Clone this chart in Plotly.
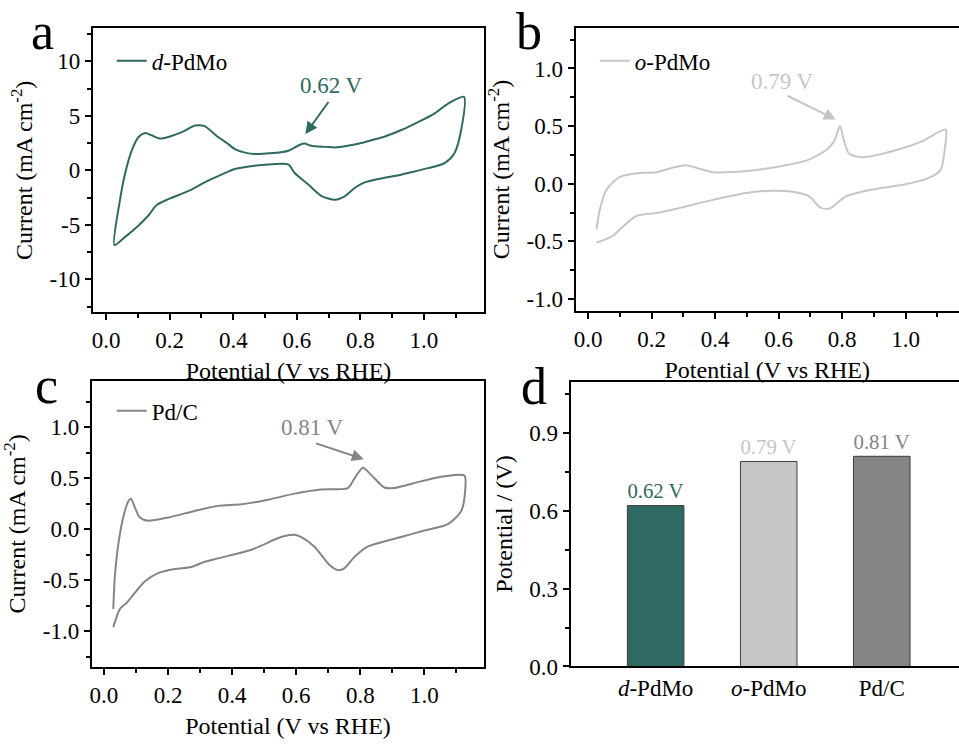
import plotly.graph_objects as go

# ---------------- data ----------------
# Panel a: d-PdMo CV (anodic scan then cathodic scan)
potential_a = [0.026, 0.044, 0.06, 0.081, 0.102, 0.123, 0.143, 0.17, 0.196, 0.238, 0.28, 0.31, 0.35, 0.38,
               0.405, 0.44, 0.468, 0.51, 0.55, 0.573, 0.594, 0.61, 0.625, 0.64, 0.657, 0.69, 0.72, 0.76,
               0.803, 0.84, 0.877, 0.929, 0.98, 1.033, 1.075, 1.126,
               1.117, 1.096, 1.065, 1.013, 0.97, 0.929, 0.856, 0.81, 0.783, 0.752, 0.72, 0.678, 0.636, 0.594,
               0.573, 0.51, 0.45, 0.405, 0.363, 0.31, 0.259, 0.196, 0.159, 0.133, 0.102, 0.06, 0.026]
current_a = [-6.85, -2.64, -0.24, 1.86, 3.06, 3.42, 3.21, 2.91, 3.06, 3.5, 4.1, 4.05, 3.1, 2.5,
             1.95, 1.6, 1.5, 1.56, 1.65, 1.8, 2.1, 2.35, 2.45, 2.3, 2.2, 2.15, 2.1, 2.25,
             2.5, 2.8, 3.1, 3.7, 4.4, 5.2, 6.1, 6.73,
             3.67, 1.57, 0.67, 0.2, -0.1, -0.4, -0.8, -1.15, -1.6, -2.36, -2.7, -2.36, -1.3, -0.27,
             0.54, 0.54, 0.35, 0.12, -0.39, -1.1, -1.89, -2.64, -3.18, -4.14, -5.05, -6.1, -6.85]

# Panel b: o-PdMo CV
potential_b = [0.026, 0.037, 0.058, 0.1, 0.152, 0.215, 0.267, 0.309, 0.351, 0.393, 0.497, 0.602, 0.686,
               0.749, 0.775, 0.793, 0.806, 0.822, 0.864, 0.969, 1.053, 1.126,
               1.124, 1.11, 1.073, 1.0, 0.895, 0.812, 0.77, 0.754, 0.728, 0.697, 0.644, 0.581, 0.497,
               0.393, 0.288, 0.225, 0.152, 0.11, 0.079, 0.047, 0.026]
current_b = [-0.395, -0.22, -0.05, 0.06, 0.09, 0.1, 0.14, 0.16, 0.13, 0.1, 0.11, 0.15, 0.2,
             0.29, 0.37, 0.5, 0.37, 0.26, 0.23, 0.29, 0.37, 0.47,
             0.32, 0.12, 0.05, -0.005, -0.05, -0.11, -0.2, -0.22, -0.2, -0.11, -0.07, -0.06, -0.08,
             -0.14, -0.21, -0.25, -0.28, -0.37, -0.45, -0.49, -0.51]

# Panel c: Pd/C CV
potential_c = [0.029, 0.034, 0.045, 0.06, 0.076, 0.084, 0.097, 0.112, 0.138, 0.2, 0.283, 0.356, 0.429, 0.512,
               0.595, 0.678, 0.761, 0.782, 0.808, 0.834, 0.875, 0.906, 0.989, 1.062, 1.125,
               1.127, 1.115, 1.073, 1.0, 0.927, 0.823, 0.782, 0.751, 0.73, 0.704, 0.657, 0.616, 0.595,
               0.553, 0.46, 0.356, 0.304, 0.273, 0.221, 0.169, 0.128, 0.097, 0.071, 0.05, 0.029]
current_c = [-0.78, -0.46, -0.14, 0.116, 0.276, 0.30, 0.21, 0.116, 0.084, 0.116, 0.18, 0.23, 0.245, 0.29,
             0.35, 0.39, 0.405, 0.5, 0.605, 0.534, 0.41, 0.405, 0.47, 0.52, 0.527,
             0.37, 0.18, 0.05, -0.012, -0.076, -0.17, -0.27, -0.38, -0.4, -0.35, -0.17, -0.076, -0.054,
             -0.076, -0.2, -0.285, -0.33, -0.37, -0.39, -0.43, -0.51, -0.62, -0.72, -0.78, -0.96]

# Panel d: peak potentials
catalysts = ["d-PdMo", "o-PdMo", "Pd/C"]
catalyst_labels = ["<i>d</i>-PdMo", "<i>o</i>-PdMo", "Pd/C"]
peak_potential = [0.62, 0.79, 0.81]

# tick labels
ticks_x = [0.0, 0.2, 0.4, 0.6, 0.8, 1.0]
ticks_x_text = ["0.0", "0.2", "0.4", "0.6", "0.8", "1.0"]
ticks_a = [-10, -5, 0, 5, 10]
ticks_a_text = ["-10", "-5", "0", "5", "10"]
ticks_bc = [-1.0, -0.5, 0.0, 0.5, 1.0]
ticks_bc_text = ["-1.0", "-0.5", "0.0", "0.5", "1.0"]
ticks_d = [0.0, 0.3, 0.6, 0.9]
ticks_d_text = ["0.0", "0.3", "0.6", "0.9"]

# ---------------- style ----------------
TEAL = "#2e6a61"
LIGHT = "#c6c6c6"
GREY = "#858585"
FONT = "Liberation Serif"
W, H = 959, 747

fig = go.Figure()

spl = dict(shape="spline", smoothing=0.7)
fig.add_trace(go.Scatter(x=potential_a, y=current_a, mode="lines", line=dict(color=TEAL, width=2, **spl),
                         name="<i>d</i>-PdMo", xaxis="x", yaxis="y", legend="legend"))
fig.add_trace(go.Scatter(x=potential_b, y=current_b, mode="lines", line=dict(color=LIGHT, width=2, **spl),
                         name="<i>o</i>-PdMo", xaxis="x2", yaxis="y2", legend="legend2"))
fig.add_trace(go.Scatter(x=potential_c, y=current_c, mode="lines", line=dict(color=GREY, width=2, **spl),
                         name="Pd/C", xaxis="x3", yaxis="y3", legend="legend3"))
fig.add_trace(go.Bar(x=list(range(len(catalysts))), y=peak_potential, width=0.5,
                     marker=dict(color=[TEAL, LIGHT, GREY], line=dict(color="#3c3c3c", width=1)),
                     text=[f"{v:.2f} V" for v in peak_potential], textposition="outside",
                     textfont=dict(color=[TEAL, LIGHT, GREY], size=23, family=FONT),
                     cliponaxis=False, showlegend=False, xaxis="x4", yaxis="y4"))


def px_x(p):
    return p / W


def px_y(p):
    return 1 - p / H


axis_common = dict(showline=True, linecolor="black", linewidth=2, ticks="outside", ticklen=6,
                   tickwidth=2, tickcolor="black", showgrid=False, zeroline=False,
                   tickfont=dict(family=FONT, size=23, color="black"))
title_font = dict(family=FONT, size=24, color="black")
minor_t = dict(ticks="outside", ticklen=4, tickwidth=2, tickcolor="black", showgrid=False)

xcv = dict(axis_common, tickvals=ticks_x, ticktext=ticks_x_text,
           minor=dict(minor_t, dtick=0.1, tick0=0),
           title=dict(text="Potential (V vs RHE)", font=title_font, standoff=10))

ytitle = "Current (mA cm<sup>-2</sup>)"

fig.update_layout(
    width=W, height=H, margin=dict(l=0, r=0, t=0, b=0),
    paper_bgcolor="white", plot_bgcolor="white",
    font=dict(family=FONT, size=23, color="black"),
    xaxis=dict(xcv, domain=[px_x(91), px_x(483.3)], range=[-0.042, 1.19], mirror=True, anchor="y"),
    yaxis=dict(axis_common, domain=[px_y(317.7), px_y(29)], range=[-13, 13], mirror=True, anchor="x",
               tickvals=ticks_a, ticktext=ticks_a_text, minor=dict(minor_t, dtick=2.5, tick0=0),
               title=dict(text=ytitle, font=title_font, standoff=10)),
    xaxis2=dict(xcv, domain=[px_x(574.7), 1.0], range=[-0.04, 1.168], mirror=True, anchor="y2"),
    yaxis2=dict(axis_common, domain=[px_y(316.7), px_y(28.3)], range=[-1.106, 1.353], anchor="x2",
                tickvals=ticks_bc, ticktext=ticks_bc_text, minor=dict(minor_t, dtick=0.25, tick0=0),
                title=dict(text=ytitle, font=title_font, standoff=10)),
    xaxis3=dict(xcv, domain=[px_x(90), px_x(483.3)], range=[-0.038, 1.187], mirror=True, anchor="y3"),
    yaxis3=dict(axis_common, domain=[px_y(679), px_y(387.3)], range=[-1.352, 1.459], mirror=True, anchor="x3",
                tickvals=ticks_bc, ticktext=ticks_bc_text, minor=dict(minor_t, dtick=0.25, tick0=0),
                title=dict(text=ytitle, font=title_font, standoff=10)),
    xaxis4=dict(axis_common, domain=[px_x(569.7), 1.0], range=[-0.753, 2.683], mirror=True, anchor="y4",
                ticks="", tickvals=list(range(len(catalysts))), ticktext=catalyst_labels),
    yaxis4=dict(axis_common, domain=[px_y(678.3), px_y(388.3)], range=[0, 1.098], anchor="x4",
                tickvals=ticks_d, ticktext=ticks_d_text, minor=dict(minor_t, dtick=0.15, tick0=0),
                title=dict(text="Potential / (V)", font=title_font, standoff=10)),
    legend=dict(x=px_x(110), y=px_y(62), yanchor="middle", xanchor="left", bgcolor="rgba(0,0,0,0)",
                font=dict(family=FONT, size=23)),
    legend2=dict(x=px_x(594), y=px_y(62), yanchor="middle", xanchor="left", bgcolor="rgba(0,0,0,0)",
                 font=dict(family=FONT, size=23)),
    legend3=dict(x=px_x(110), y=px_y(418), yanchor="middle", xanchor="left", bgcolor="rgba(0,0,0,0)",
                 font=dict(family=FONT, size=23)),
)

# arrows (empty text) and peak labels
arrows = [
    ("x", "y", 0.627, 3.33, 0.703, 6.4, TEAL, "0.62 V", 0.709, 7.75),
    ("x2", "y2", 0.780, 0.557, 0.623, 0.77, LIGHT, "0.79 V", 0.613, 0.884),
    ("x3", "y3", 0.811, 0.688, 0.657, 0.848, GREY, "0.81 V", 0.652, 0.999),
]
for xr, yr, hx, hy, tx, ty, col, txt, lx, ly in arrows:
    fig.add_annotation(x=hx, y=hy, ax=tx, ay=ty, xref=xr, yref=yr, axref=xr, ayref=yr, text="",
                       showarrow=True, arrowhead=2, arrowsize=1.2, arrowwidth=2, arrowcolor=col)
    fig.add_annotation(x=lx, y=ly, xref=xr, yref=yr, text=txt, showarrow=False,
                       font=dict(family=FONT, size=23, color=col))

# panel letters
for letter, x0, yb in [("a", 27, 63), ("b", 513, 63), ("c", 31, 423), ("d", 518, 424)]:
    fig.add_annotation(x=px_x(x0), y=px_y(yb), xref="paper", yref="paper", text=letter,
                       showarrow=False, xanchor="left", yanchor="bottom",
                       font=dict(family=FONT, size=52, color="black"))

fig.write_html("out.html")
